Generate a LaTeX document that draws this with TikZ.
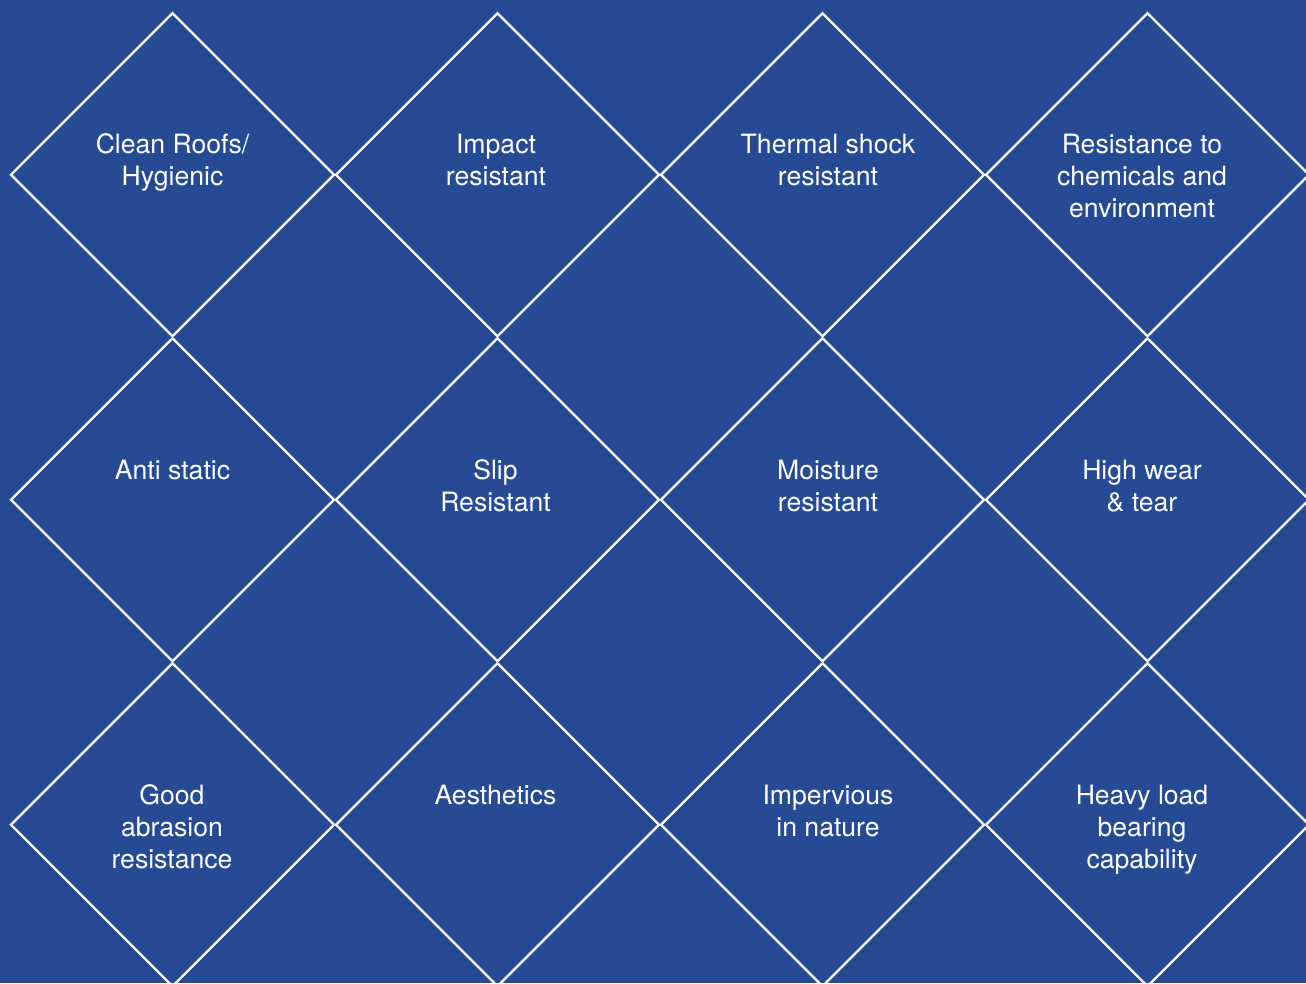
\documentclass[tikz,border=0pt]{standalone}
\usepackage{fontspec}
\setmainfont{TeX Gyre Heros}
\usetikzlibrary{shapes.geometric}
\definecolor{bgblue}{RGB}{38,75,148}
\begin{document}
\begin{tikzpicture}[x=1pt,y=-1pt,
  dia/.style={draw=white, line width=2.2pt, diamond, aspect=1, minimum width=323pt, minimum height=323pt, inner sep=0pt, outer sep=0pt},
  lbl/.style={text=white, align=center, anchor=base, font=\fontsize{26.6}{32}\selectfont, inner sep=0pt}]
\useasboundingbox (0,0) rectangle (1306,983);
\fill[bgblue] (0,0) rectangle (1306,983);
\clip (0,0) rectangle (1306,983);
% diamonds
\node[dia] (d11) at (172.5,174.75) {};
\node[dia] (d12) at (497.5,174.75) {};
\node[dia] (d13) at (822.5,174.75) {};
\node[dia] (d14) at (1147.5,174.75) {};
\node[dia] (d21) at (172.5,499.75) {};
\node[dia] (d22) at (497.5,499.75) {};
\node[dia] (d23) at (822.5,499.75) {};
\node[dia] (d24) at (1147.5,499.75) {};
\node[dia] (d31) at (172.5,824.75) {};
\node[dia] (d32) at (497.5,824.75) {};
\node[dia] (d33) at (822.5,824.75) {};
\node[dia] (d34) at (1147.5,824.75) {};
% labels (anchor = baseline of last line)
\node[lbl] (t11) at (172.5,185) {Clean Roofs/\\Hygienic};
\node[lbl] (t12) at (496,185) {Impact\\resistant};
\node[lbl] (t13) at (828,185) {Thermal shock\\resistant};
\node[lbl] (t14) at (1142,217) {Resistance to\\chemicals and\\environment};
\node[lbl] (t21) at (172.5,479) {Anti static};
\node[lbl] (t22) at (495.5,511) {Slip\\Resistant};
\node[lbl] (t23) at (828,511) {Moisture\\resistant};
\node[lbl] (t24) at (1142,511) {High wear\\\& tear};
\node[lbl] (t31) at (172,868) {Good\\abrasion\\resistance};
\node[lbl] (t32) at (495.5,804) {Aesthetics};
\node[lbl] (t33) at (828,836) {Impervious\\in nature};
\node[lbl] (t34) at (1142,868) {Heavy load\\bearing\\capability};
\end{tikzpicture}
\end{document}
